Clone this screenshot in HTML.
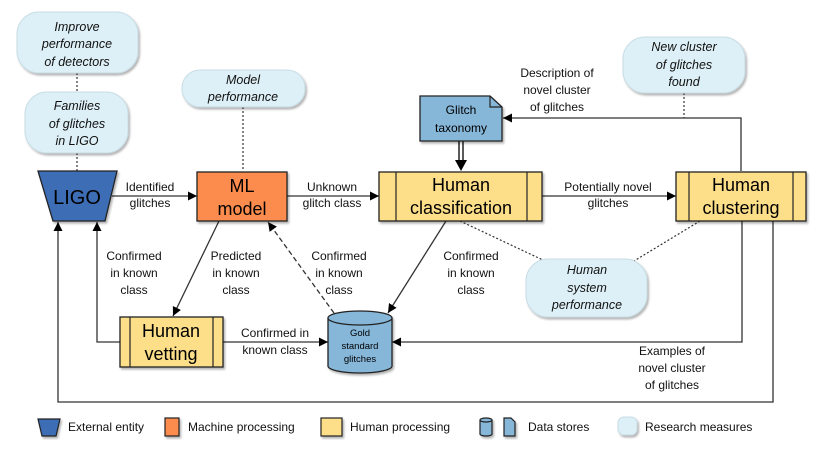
<!DOCTYPE html>
<html><head><meta charset="utf-8"><style>
html,body{margin:0;padding:0;background:#fff;}
svg{display:block;font-family:"Liberation Sans",Arial,sans-serif;}
</style></head><body>
<svg width="830" height="457" viewBox="0 0 830 457" xmlns="http://www.w3.org/2000/svg">
<defs>
<marker id="a" viewBox="0 0 10 10" refX="10" refY="5" markerWidth="9" markerHeight="9" markerUnits="userSpaceOnUse" orient="auto"><path d="M0,0 L10,5 L0,10 z" fill="#000"/></marker>
<filter id="sh" x="-10%" y="-10%" width="130%" height="130%"><feDropShadow dx="1.5" dy="2" stdDeviation="1" flood-color="#000" flood-opacity="0.3"/></filter>
</defs>
<g fill="none" stroke="#333" stroke-width="1.3">
<!-- dotted connectors -->
<g stroke-dasharray="2,2" stroke-width="1.2">
<line x1="77" y1="73" x2="77" y2="92"/>
<line x1="77" y1="153" x2="77" y2="171"/>
<line x1="243" y1="107" x2="243" y2="171"/>
<line x1="684" y1="93" x2="684" y2="118"/>
<line x1="460" y1="221" x2="545" y2="261"/>
<line x1="700" y1="221" x2="634" y2="261"/>
</g>
<!-- arrows -->
<line x1="112" y1="196" x2="197" y2="196" marker-end="url(#a)"/>
<line x1="287" y1="196" x2="379" y2="196" marker-end="url(#a)"/>
<line x1="542" y1="196" x2="676" y2="196" marker-end="url(#a)"/>
<polyline points="741,171 741,118 503,118" marker-end="url(#a)"/>
<line x1="219" y1="221" x2="173" y2="316" marker-end="url(#a)"/>
<line x1="334" y1="313" x2="268" y2="222" stroke-dasharray="5,3" marker-end="url(#a)"/>
<line x1="446" y1="221" x2="388" y2="313" marker-end="url(#a)"/>
<line x1="223" y1="342" x2="328" y2="342" marker-end="url(#a)"/>
<polyline points="742,221 742,342 392,342" marker-end="url(#a)"/>
<polyline points="120,342 97,342 97,222" marker-end="url(#a)"/>
<polyline points="773,221 773,402 58,402 58,222" marker-end="url(#a)"/>
<!-- double arrow -->
<line x1="459" y1="141" x2="459" y2="160" stroke="#000"/>
<line x1="463" y1="141" x2="463" y2="160" stroke="#000"/>
<path d="M455,160 L467,160 L461,171 z" fill="#000" stroke="none"/>
</g>
<!-- research bubbles -->
<g fill="#def0f7" stroke="#c8dde6" filter="url(#sh)">
<rect x="17" y="12" width="121" height="61" rx="22"/>
<rect x="25" y="92" width="103" height="61" rx="22"/>
<rect x="182" y="70" width="123" height="37" rx="18"/>
<rect x="623" y="37" width="122" height="56" rx="22"/>
<rect x="526" y="259" width="121" height="58" rx="22"/>
<rect x="618" y="417" width="19" height="18" rx="6"/>
</g>
<!-- nodes -->
<g stroke="#222" stroke-width="1.3" filter="url(#sh)">
<path d="M38,171 L117,171 L105,221 L53,221 z" fill="#3d6db5"/>
<rect x="197" y="172" width="90" height="49" fill="#fb8c4e"/>
<rect x="379" y="172" width="163" height="49" fill="#fddf8a"/>
<rect x="676" y="172" width="130" height="49" fill="#fddf8a"/>
<rect x="120" y="317" width="103" height="50" fill="#fddf8a"/>
<path d="M420,96 L490,96 L502,107 L502,141 L420,141 z" fill="#86b7d9"/>
<path d="M328,318 L328,366 A32,7 0 0 0 392,366 L392,318" fill="#86b7d9"/>
<ellipse cx="360" cy="318" rx="32" ry="7" fill="#86b7d9"/>
</g>
<g stroke="#222" stroke-width="1.2" fill="none">
<line x1="396" y1="172" x2="396" y2="221"/><line x1="527" y1="172" x2="527" y2="221"/>
<line x1="689" y1="172" x2="689" y2="221"/><line x1="793" y1="172" x2="793" y2="221"/>
<line x1="130" y1="317" x2="130" y2="367"/><line x1="213" y1="317" x2="213" y2="367"/>
<path d="M490,96 L490,107 L502,107"/>
</g>
<!-- legend shapes -->
<g stroke="#222" stroke-width="1.2" filter="url(#sh)">
<path d="M38,419 L60,419 L56,436 L42,436 z" fill="#3d6db5"/>
<rect x="165" y="418" width="14" height="18" fill="#fb8c4e"/>
<rect x="321" y="418" width="21" height="18" fill="#fddf8a"/>
<path d="M480,420 L480,434 A6,2 0 0 0 492,434 L492,420" fill="#86b7d9"/>
<ellipse cx="486" cy="420" rx="6" ry="2" fill="#86b7d9"/>
<path d="M504,418 L511,418 L515,422 L515,436 L504,436 z" fill="#86b7d9"/>
</g>
<!-- text -->
<g font-size="12.5" font-style="italic" fill="#111" text-anchor="middle">
<text x="77" y="31">Improve</text><text x="77" y="48">performance</text><text x="77" y="66">of detectors</text>
<text x="77" y="110">Families</text><text x="77" y="128">of glitches</text><text x="77" y="145">in LIGO</text>
<text x="243" y="84">Model</text><text x="243" y="101">performance</text>
<text x="684" y="51">New cluster</text><text x="684" y="69">of glitches</text><text x="684" y="86">found</text>
<text x="587" y="274">Human</text><text x="587" y="292">system</text><text x="587" y="309">performance</text>
</g>
<g fill="#000" text-anchor="middle">
<text x="77" y="204" font-size="20" fill="#000">LIGO</text>
<text x="242" y="192" font-size="18">ML</text><text x="242" y="215" font-size="18">model</text>
<text x="461" y="191" font-size="18">Human</text><text x="461" y="214" font-size="18">classification</text>
<text x="741" y="191" font-size="18">Human</text><text x="741" y="214" font-size="18">clustering</text>
<text x="171" y="337" font-size="18">Human</text><text x="171" y="360" font-size="18">vetting</text>
<text x="461" y="114" font-size="12">Glitch</text><text x="461" y="132" font-size="12">taxonomy</text>
<text x="360" y="336" font-size="9.5">Gold</text><text x="360" y="349" font-size="9.5">standard</text><text x="360" y="362" font-size="9.5">glitches</text>
</g>
<g font-size="12" fill="#111" text-anchor="middle">
<text x="150" y="191">Identified</text><text x="150" y="207">glitches</text>
<text x="332" y="191">Unknown</text><text x="332" y="207">glitch class</text>
<text x="608" y="191">Potentially novel</text><text x="608" y="207">glitches</text>
<text x="557" y="77">Description of</text><text x="557" y="94">novel cluster</text><text x="557" y="111">of glitches</text>
<text x="134" y="260">Confirmed</text><text x="134" y="277">in known</text><text x="134" y="294">class</text>
<text x="236" y="260">Predicted</text><text x="236" y="277">in known</text><text x="236" y="294">class</text>
<text x="339" y="260">Confirmed</text><text x="339" y="277">in known</text><text x="339" y="294">class</text>
<text x="471" y="260">Confirmed</text><text x="471" y="277">in known</text><text x="471" y="294">class</text>
<text x="275" y="337">Confirmed in</text><text x="275" y="354">known class</text>
<text x="672" y="355">Examples of</text><text x="672" y="372">novel cluster</text><text x="672" y="389">of glitches</text>
</g>
<g font-size="12" fill="#111">
<text x="68" y="431">External entity</text>
<text x="188" y="431">Machine processing</text>
<text x="350" y="431">Human processing</text>
<text x="528" y="431">Data stores</text>
<text x="645" y="431">Research measures</text>
</g>
</svg>
</body></html>
